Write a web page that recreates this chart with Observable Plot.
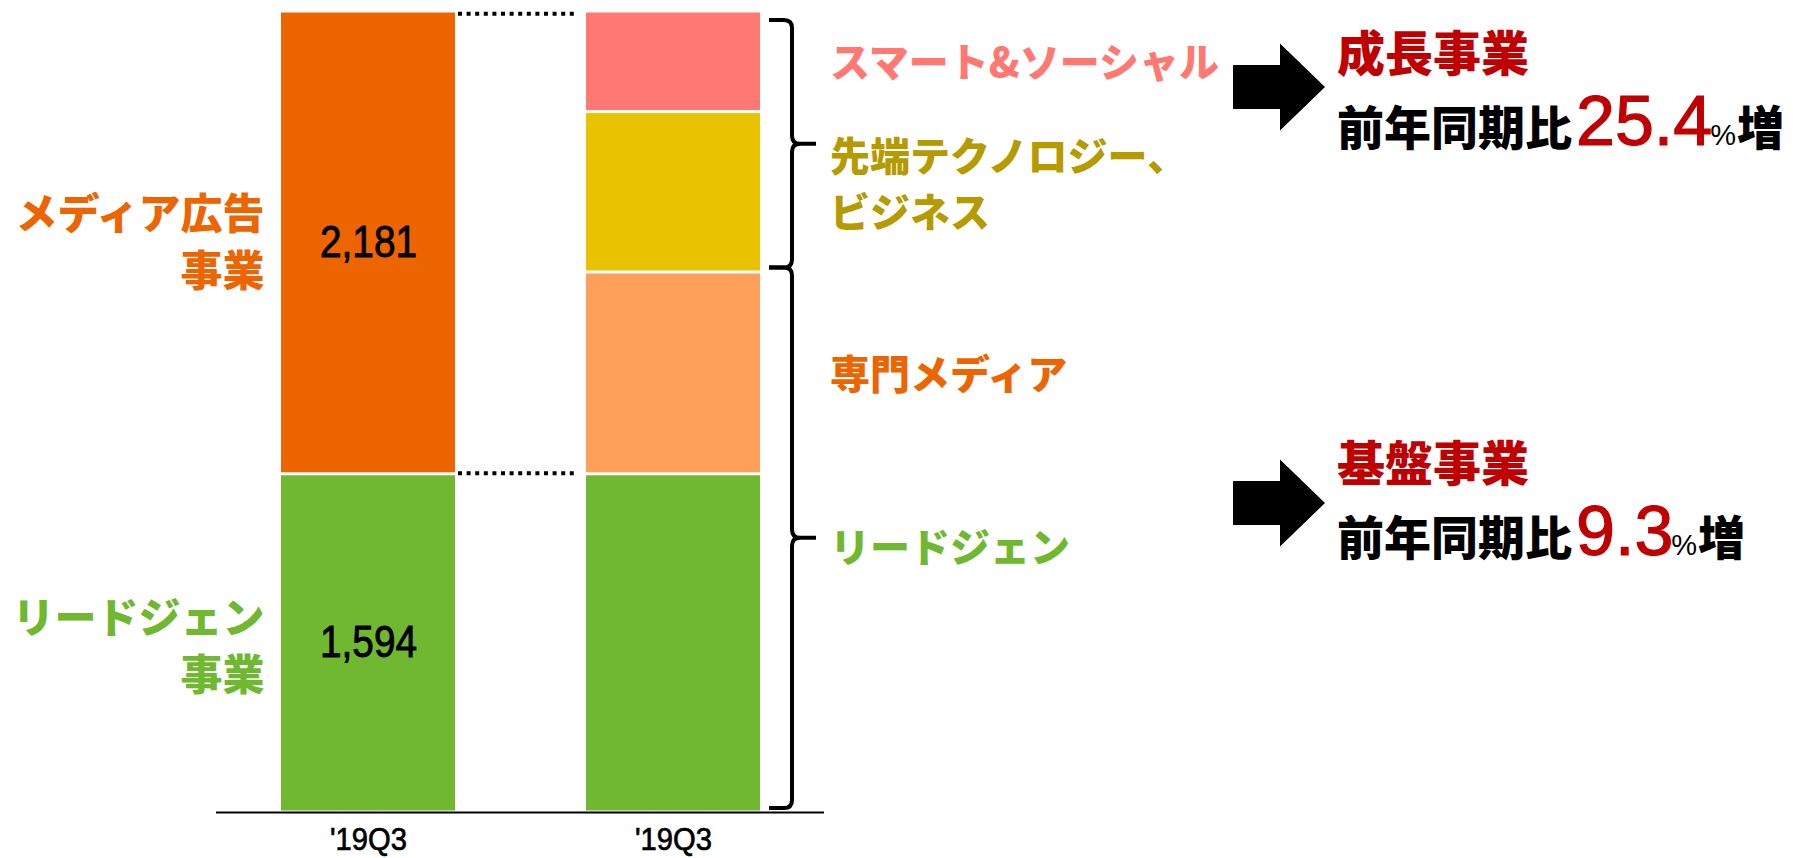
<!DOCTYPE html>
<html>
<head>
<meta charset="utf-8">
<script src="https://cdn.jsdelivr.net/npm/d3@7"></script>
<script src="https://cdn.jsdelivr.net/npm/@observablehq/plot@0.6"></script>
<style>
html, body { margin: 0; padding: 0; background: #fff; }
#chart { position: relative; width: 1793px; height: 858px; overflow: hidden; }
#chart svg { overflow: visible; }
g[aria-label^="x-axis"] text { font-family: "Liberation Sans", Arial, sans-serif; font-size: 31px; fill: #000; }
</style>
</head>
<body>
<div id="chart"></div>
<script>
// ---- data ----
const barIds = ["before", "after"];
const tickLabels = ["'19Q3", "'19Q3"];

const leftSegments = ["リードジェン事業", "メディア広告事業"];
const leftLabels = ["リードジェン\n事業", "メディア広告\n事業"];
const leftValues = [1594, 2181];
const leftColors = ["#70B82F", "#EC6500"];

const rightSegments = ["リードジェン", "専門メディア", "先端テクノロジー、ビジネス", "スマート&ソーシャル"];
const rightLabels = ["リードジェン", "専門メディア", "先端テクノロジー、\nビジネス", "スマート&ソーシャル"];
const rightValues = [1594, 951, 756, 474];
const rightColors = ["#70B82F", "#FFA05A", "#EAC300", "#FF7872"];
const rightTextColors = ["#70B82F", "#EC6500", "#B59A00", "#FF7872"];

const groupNames = ["成長事業", "基盤事業"];
const groupRates = ["25.4", "9.3"];
const groupMembers = [["先端テクノロジー、ビジネス", "スマート&ソーシャル"], ["リードジェン", "専門メディア"]];

// ---- build tables ----
function stack(bar, segs, vals, colors, labels, textColors) {
  let acc = 0;
  return segs.map((s, i) => {
    const y1 = acc; acc += vals[i];
    return {bar, seg: s, value: vals[i], y1, y2: acc, mid: (y1 + acc) / 2,
            color: colors[i], label: labels[i], textColor: textColors ? textColors[i] : colors[i]};
  });
}
const leftRows = stack(barIds[0], leftSegments, leftValues, leftColors, leftLabels);
const rightRows = stack(barIds[1], rightSegments, rightValues, rightColors, rightLabels, rightTextColors);
const total = d3.sum(leftValues);

const groups = groupMembers.map((m, gi) => {
  const rows = rightRows.filter(r => m.includes(r.seg));
  return {name: groupNames[gi], rate: groupRates[gi], members: m,
          y1: d3.min(rows, r => r.y1), y2: d3.max(rows, r => r.y2)};
});
// the lead-gen label sits at its group's brace tip
rightRows.forEach(r => {
  const g = groups.find(g => g.members.includes(r.seg));
  r.labelY = r.seg === "リードジェン" ? (g.y1 + g.y2) / 2 : r.mid;
  r.dy = r.seg === "リードジェン" ? 5 : r.seg === "先端テクノロジー、ビジネス" ? -8 : 1;
});

const allRows = leftRows.concat(rightRows);
const fmt = d3.format(",");
const cjk = "'Noto Sans CJK JP', 'Noto Sans CJK SC', sans-serif";
const latin = "'Liberation Sans', Arial, sans-serif";

const chart = Plot.plot({
  width: 1793,
  height: 858,
  marginLeft: 216,
  marginRight: 969,
  marginTop: 11,
  marginBottom: 46,
  style: {background: "white", overflow: "visible"},
  x: {domain: barIds, paddingInner: 0.43, paddingOuter: 0.21, align: 0.5,
      tickFormat: d => tickLabels[barIds.indexOf(d)], tickSize: 0, tickPadding: 15, label: null},
  y: {domain: [0, total], axis: null},
  marks: [
    Plot.rectY(allRows, {x: "bar", y1: "y1", y2: "y2", fill: d => d.color, insetTop: 1.5, insetBottom: 1.5}),
    Plot.ruleY([0], {stroke: "#000", strokeWidth: 2}),
    Plot.text(leftRows, {x: "bar", y: "mid", text: d => fmt(d.value), fontFamily: latin, fontSize: 44,
      fill: "#000", className: "num"}),
    Plot.text(leftRows.slice(1), {x: "bar", y: "mid", text: "label", fill: d => d.color, fontFamily: cjk,
      fontSize: 42, fontWeight: 900, textAnchor: "end", dx: -104, dy: -4, lineHeight: 1.36}),
    Plot.text(leftRows.slice(0, 1), {x: "bar", y: "mid", text: "label", fill: d => d.color, fontFamily: cjk,
      fontSize: 42, fontWeight: 900, textAnchor: "end", dx: -104, lineHeight: 1.36})
  ]
});
document.getElementById("chart").appendChild(chart);

// condensed look for the numeric labels and the tick labels
d3.select(chart).selectAll("g.num text").attr("textLength", 97).attr("lengthAdjust", "spacingAndGlyphs")
  .attr("stroke", "#000").attr("stroke-width", 0.9);
d3.select(chart).selectAll("g[aria-label^='x-axis'] text").attr("textLength", 77).attr("lengthAdjust", "spacingAndGlyphs")
  .attr("stroke", "#000").attr("stroke-width", 0.7);

// ---- annotations drawn with the chart's own scales ----
const xs = chart.scale("x"), ys = chart.scale("y");
const bw = xs.bandwidth;
const xL = xs.apply(barIds[0]), xR = xs.apply(barIds[1]);
const svg = d3.select(chart);
const ann = svg.append("g").attr("text-anchor", "start");

// dotted connectors
[total, leftValues[0]].forEach((v, i) => {
  const y = ys.apply(v) + (i === 0 ? 2.7 : -0.5);
  ann.append("line").attr("x1", xL + bw + 3).attr("x2", xR - 8).attr("y1", y).attr("y2", y)
    .attr("stroke", "#000").attr("stroke-width", 4).attr("stroke-dasharray", "4 4.6");
});

// braces
const xv = xR + bw + 32, xh = xR + bw + 9, xt = xv + 24;
function brace(yt, yb) {
  const ym = (yt + yb) / 2, r = 8;
  return `M${xh},${yt} L${xv - r},${yt} Q${xv},${yt} ${xv},${yt + r} L${xv},${ym - r} Q${xv},${ym} ${xv + r},${ym} L${xt},${ym}` +
         ` M${xv + r},${ym} Q${xv},${ym} ${xv},${ym + r} L${xv},${yb - r} Q${xv},${yb} ${xv - r},${yb} L${xh},${yb}`;
}
const yShared = ys.apply(groups[0].y1) - 4.5;
ann.append("path").attr("d", brace(ys.apply(groups[0].y2) + 9, yShared))
  .attr("fill", "none").attr("stroke", "#000").attr("stroke-width", 4);
ann.append("path").attr("d", brace(yShared, ys.apply(groups[1].y1) - 4))
  .attr("fill", "none").attr("stroke", "#000").attr("stroke-width", 4);

// right-side segment labels
rightRows.forEach(r => {
  const lines = r.label.split("\n");
  const lh = 56;
  const yc = ys.apply(r.labelY) + r.dy;
  const t = ann.append("text").attr("text-anchor", "start").attr("fill", r.textColor)
    .attr("font-family", cjk).attr("font-size", 40).attr("font-weight", 900);
  lines.forEach((l, i) => {
    t.append("tspan").attr("x", xR + bw / 2 + 157)
      .attr("y", yc + (i - (lines.length - 1) / 2) * lh + 15).text(l);
  });
});

// growth summary (arrows + text)
const arrowCenters = [87, 503];
const titleBaselines = [71, 481];
const subBaselines = [145, 555];
const tx = 1337;
groups.forEach((g, i) => {
  const c = arrowCenters[i];
  const pts = [[1233, c - 22], [1280, c - 22], [1280, c - 43.5], [1325, c], [1280, c + 43.5], [1280, c + 22], [1233, c + 22]];
  ann.append("polygon").attr("points", pts.map(p => p.join(",")).join(" ")).attr("fill", "#000");
  ann.append("text").attr("text-anchor", "start").attr("x", tx).attr("y", titleBaselines[i]).attr("fill", "#C00000")
    .attr("font-family", cjk).attr("font-size", 48).attr("font-weight", 900).text(g.name);
  const s = ann.append("text").attr("text-anchor", "start").attr("x", tx).attr("y", subBaselines[i]);
  s.append("tspan").attr("font-family", cjk).attr("font-size", 47).attr("font-weight", 900).attr("fill", "#000").text("前年同期比");
  s.append("tspan").attr("font-family", latin).attr("font-size", 70).attr("fill", "#C00000")
    .attr("stroke", "#C00000").attr("stroke-width", 1.2).attr("dx", 4).text(g.rate);
  s.append("tspan").attr("font-family", latin).attr("font-size", 29).attr("fill", "#000").attr("dx", -2).text("%");
  s.append("tspan").attr("font-family", cjk).attr("font-size", 47).attr("font-weight", 900).attr("fill", "#000").attr("dx", 1).text("増");
});
</script>
</body>
</html>
